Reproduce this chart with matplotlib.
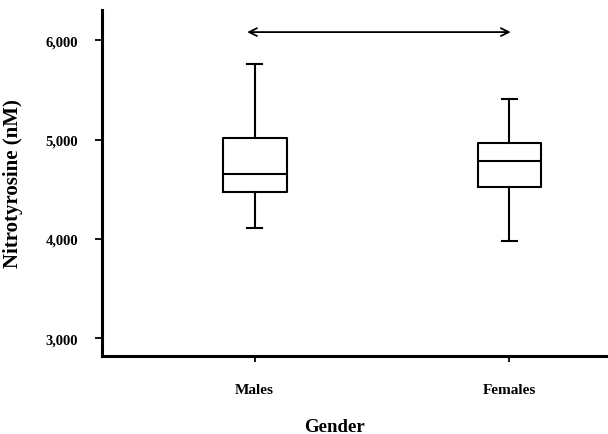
import matplotlib
matplotlib.use("Agg")
from matplotlib import pyplot as plt

# box plot summary (nM)
groups = ["Males", "Females"]
whisker_low = [4110, 3985]
q1 = [4470, 4525]
medians = [4655, 4780]
q3 = [5015, 4970]
whisker_high = [5755, 5405]
yticks = [3000, 4000, 5000, 6000]
arrow_y = 6080

plt.rcParams['font.family'] = ['Liberation Serif', 'DejaVu Serif']
plt.rcParams['font.weight'] = 'bold'

fig = plt.figure(figsize=(6.08, 4.35), dpi=100)
ax = fig.add_axes([0.1673, 0.1793, 0.831, 0.7954])

stats = []
for i, name in enumerate(groups):
    stats.append({"label": name, "whislo": whisker_low[i], "q1": q1[i],
                  "med": medians[i], "q3": q3[i], "whishi": whisker_high[i],
                  "fliers": []})

line = dict(color="black", linewidth=1.5)
ax.bxp(stats, positions=[0, 1], widths=0.25, capwidths=0.06,
       showfliers=False, boxprops=line, medianprops=line,
       whiskerprops=line, capprops=line)

# double headed arrow across the groups
ax.annotate("", xy=(-0.03, arrow_y), xytext=(1.005, arrow_y),
            arrowprops=dict(arrowstyle="<->", color="black", lw=1.3,
                            mutation_scale=14, shrinkA=0, shrinkB=0))

ax.set_xlim(-0.601, 1.383)
ax.set_ylim(2824, 6302)
ax.set_yticks(yticks)
ax.set_yticklabels([f"{v:,}" for v in yticks])

for side in ["top", "right"]:
    ax.spines[side].set_visible(False)
for side in ["left", "bottom"]:
    ax.spines[side].set_linewidth(2.2)

ax.tick_params(axis="y", length=5, width=1.3, pad=12, labelsize=10.5)
ax.tick_params(axis="x", length=4, width=1.3, pad=15.5, labelsize=11)

ax.set_xlabel("Gender", fontsize=13.5, fontweight="bold")
ax.xaxis.label.set_va("center")
ax.xaxis.set_label_coords(0.4617, -0.204)
ax.set_ylabel("Nitrotyrosine (nM)", fontsize=15, fontweight="bold")
ax.yaxis.set_label_coords(-0.155, 0.5)

plt.savefig("out.png", dpi=100)
